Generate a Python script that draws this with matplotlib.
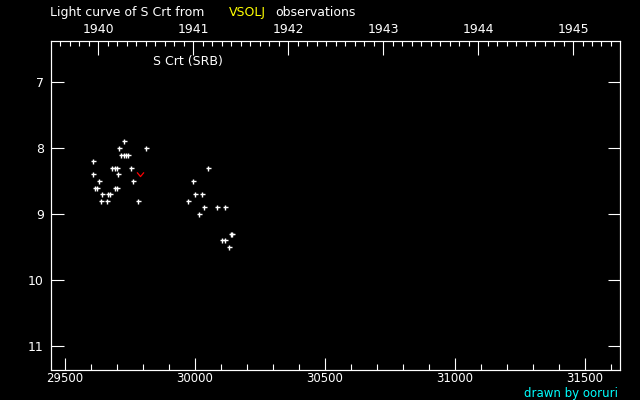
import matplotlib
matplotlib.use("Agg")
import numpy as np
import matplotlib.pyplot as plt
from matplotlib.path import Path
from matplotlib.ticker import MultipleLocator, FixedLocator

# Observations (JD - 2400000, visual magnitude)
jd = [29730, 29711, 29815, 29718, 29728, 29737, 29745, 29611,
      29684, 29693, 29702, 29757, 29611, 29707, 29634, 29765,
      29618, 29626, 29693, 29702, 29645, 29668, 29676, 29642,
      29665, 29784,
      30053, 29995, 30003, 30030, 29976, 30038, 30088, 30118,
      30018, 30141, 30145, 30107, 30117, 30134]
mag = [7.9, 8.0, 8.0, 8.1, 8.1, 8.1, 8.1, 8.2,
       8.3, 8.3, 8.3, 8.3, 8.4, 8.4, 8.5, 8.5,
       8.6, 8.6, 8.6, 8.6, 8.7, 8.7, 8.7, 8.8,
       8.8, 8.8,
       8.3, 8.5, 8.7, 8.7, 8.8, 8.9, 8.9, 8.9,
       9.0, 9.3, 9.3, 9.4, 9.4, 9.5]
# fainter-than observation
lim_jd = [29792]
lim_mag = [8.4]

x_ticks = [29500, 30000, 30500, 31000, 31500]
y_ticks = [7, 8, 9, 10, 11]
year_ticks = [1940, 1941, 1942, 1943, 1944, 1945]

JD1940 = 29629.5
def yr2jd(y):
    return JD1940 + (np.asarray(y, dtype=float) - 1940) * 365.25

fig = plt.figure(figsize=(6.4, 4.0), dpi=100, facecolor="black")
ax = fig.add_axes([50.7/640, (400-370.3)/400, (620-50.7)/640, (370.3-40.5)/400])
ax.set_facecolor("black")
for s in ax.spines.values():
    s.set_color("white")
    s.set_linewidth(0.8)

ax.plot(jd, mag, linestyle="none", marker="+", color="white",
        markersize=3.6, markeredgewidth=1.0)
vpath = Path([(-1, 0.6), (0, -0.6), (1, 0.6)], [Path.MOVETO, Path.LINETO, Path.LINETO])
ax.plot(lim_jd, lim_mag, linestyle="none", marker=vpath, color="red",
        markersize=5, markeredgewidth=0.9, fillstyle="none")

xlim = (29446.9, 31636.5)
ax.set_xlim(*xlim)
ax.set_ylim(11.37, 6.37)

fs = 9
ax.xaxis.set_major_locator(FixedLocator(x_ticks))
ax.xaxis.set_minor_locator(MultipleLocator(100))
ax.set_xticklabels([str(v) for v in x_ticks], color="white", fontsize=8.5)
ax.tick_params(axis="x", which="major", direction="in", length=9, width=0.8,
               color="white", bottom=True, top=False, pad=1)
ax.tick_params(axis="x", which="minor", direction="in", length=4.5, width=0.8,
               color="white", bottom=True, top=False)

ax.yaxis.set_major_locator(FixedLocator(y_ticks))
ax.set_yticklabels([str(v) for v in y_ticks], color="white", fontsize=fs)
ax.tick_params(axis="y", which="major", direction="in", length=9, width=0.8,
               color="white", left=True, right=True, pad=5)

top = ax.twiny()
top.set_xlim(*xlim)
top.xaxis.set_major_locator(FixedLocator(yr2jd(year_ticks)))
top.xaxis.set_minor_locator(FixedLocator(yr2jd(np.arange(1939.0, 1946.01, 0.1))))
top.set_xticklabels([str(v) for v in year_ticks], color="white", fontsize=fs)
top.tick_params(axis="x", which="major", direction="in", length=10, width=0.8,
                color="white", pad=3)
top.tick_params(axis="x", which="minor", direction="in", length=3.7, width=0.8,
                color="white")
for s in top.spines.values():
    s.set_color("white")
    s.set_linewidth(0.8)

fig.text(50/640, 1 - 12.5/400, "Light curve of S Crt from", color="white",
         fontsize=fs, ha="left", va="center")
fig.text(229/640, 1 - 12.5/400, "VSOLJ", color="yellow",
         fontsize=fs, ha="left", va="center")
fig.text(275/640, 1 - 12.5/400, "observations", color="white",
         fontsize=fs, ha="left", va="center")
fig.text(153/640, 1 - 62/400, "S Crt (SRB)", color="white",
         fontsize=fs, ha="left", va="center")
fig.text(618/640, 1 - 393/400, "drawn by ooruri", color="cyan",
         fontsize=8.5, ha="right", va="center")

fig.savefig("out.png", dpi=100, facecolor="black")
